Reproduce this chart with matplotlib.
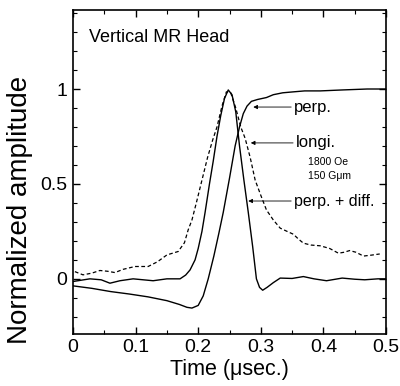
import numpy as np
import matplotlib.pyplot as plt
from matplotlib.ticker import MultipleLocator

plt.rcParams['font.family'] = ['Liberation Sans', 'DejaVu Sans']

# perp. (step response)
t_perp = [0, 0.03, 0.06, 0.09, 0.12, 0.15, 0.17, 0.182, 0.19, 0.2, 0.208, 0.216,
          0.225, 0.233, 0.24, 0.25, 0.259, 0.266, 0.272, 0.278, 0.285, 0.295,
          0.309, 0.32, 0.335, 0.352, 0.37, 0.395, 0.43, 0.47, 0.5]
y_perp = [-0.037, -0.05, -0.067, -0.08, -0.095, -0.115, -0.135, -0.15, -0.154,
          -0.14, -0.09, 0.0, 0.12, 0.24, 0.35, 0.53, 0.70, 0.80, 0.87, 0.91,
          0.935, 0.945, 0.955, 0.97, 0.98, 0.985, 0.99, 0.99, 0.995, 1.0, 1.0]

# longi. (pulse)
t_longi = [0, 0.027, 0.045, 0.059, 0.075, 0.096, 0.128, 0.15, 0.171, 0.18, 0.187,
           0.195, 0.2, 0.206, 0.211, 0.218, 0.224, 0.23, 0.236, 0.242, 0.248,
           0.254, 0.26, 0.266, 0.273, 0.28, 0.287, 0.293, 0.298, 0.303, 0.31,
           0.32, 0.331, 0.35, 0.368, 0.385, 0.405, 0.43, 0.45, 0.466, 0.487, 0.5]
y_longi = [-0.014, 0.0, -0.005, -0.023, -0.01, 0.0, -0.01, 0.0, 0.0, 0.02, 0.047,
           0.1, 0.16, 0.25, 0.35, 0.5, 0.62, 0.75, 0.86, 0.95, 0.995, 0.97, 0.88,
           0.70, 0.52, 0.35, 0.17, 0.0, -0.045, -0.06, -0.045, -0.02, 0.004,
           0.002, 0.012, 0.0, -0.01, 0.004, -0.002, -0.005, 0.0, 0.0]

# perp. + diff. (dashed)
t_diff = [0.003, 0.016, 0.03, 0.043, 0.055, 0.067, 0.08, 0.099, 0.12, 0.135, 0.15,
          0.168, 0.178, 0.184, 0.19, 0.197, 0.206, 0.215, 0.223, 0.23, 0.238,
          0.245, 0.252, 0.26, 0.268, 0.275, 0.283, 0.291, 0.3, 0.309, 0.32,
          0.331, 0.342, 0.352, 0.36, 0.368, 0.38, 0.395, 0.41, 0.424, 0.433,
          0.442, 0.452, 0.464, 0.477, 0.49]
y_diff = [0.038, 0.021, 0.03, 0.044, 0.04, 0.033, 0.05, 0.065, 0.065, 0.09, 0.126,
          0.144, 0.19, 0.258, 0.31, 0.40, 0.52, 0.64, 0.73, 0.80, 0.91, 0.985,
          0.98, 0.90, 0.80, 0.74, 0.64, 0.52, 0.44, 0.363, 0.31, 0.267, 0.25,
          0.235, 0.21, 0.188, 0.178, 0.174, 0.16, 0.135, 0.14, 0.149, 0.14,
          0.12, 0.125, 0.131]

fig = plt.figure(figsize=(4.0, 3.86), dpi=100)
ax = fig.add_axes([0.1825, 0.135, 0.7825, 0.839])

ax.plot(t_perp, y_perp, color='black', lw=1.0)
ax.plot(t_longi, y_longi, color='black', lw=1.0)
ax.plot(t_diff, y_diff, color='black', lw=0.9, linestyle=(0, (3, 2)))

ax.set_xlim(0, 0.5)
ax.set_ylim(-0.29, 1.416)

ax.xaxis.set_minor_locator(MultipleLocator(0.05))
ax.yaxis.set_minor_locator(MultipleLocator(0.1))
ax.set_xticks([0, 0.1, 0.2, 0.3, 0.4, 0.5])
ax.set_xticklabels(['0', '0.1', '0.2', '0.3', '0.4', '0.5'])
ax.set_yticks([0, 0.5, 1])
ax.set_yticklabels(['0', '0.5', '1'])
ax.tick_params(which='both', direction='in', top=True, right=True)
ax.tick_params(which='major', length=5, width=1, labelsize=14, pad=4)
ax.tick_params(which='minor', length=3, width=0.8)
for s in ax.spines.values():
    s.set_linewidth(1.2)

ax.set_xlabel('Time (\u03bcsec.)', fontsize=15.5, labelpad=2)
ax.set_ylabel('Normalized amplitude', fontsize=20)
ax.yaxis.set_label_coords(-0.128, 0.383)

ax.text(0.025, 1.27, 'Vertical MR Head', fontsize=13, va='center', ha='left')

arrow = dict(arrowstyle='-|>', color='black', lw=0.6, mutation_scale=6,
             shrinkA=0, shrinkB=0)
ax.annotate('perp.', xy=(0.288, 0.905), xytext=(0.353, 0.905), fontsize=12,
            va='center', ha='left', arrowprops=arrow)
ax.annotate('longi.', xy=(0.284, 0.716), xytext=(0.356, 0.716), fontsize=12,
            va='center', ha='left', arrowprops=arrow)
ax.text(0.376, 0.616, '1800 Oe', fontsize=7.5, va='center', ha='left')
ax.text(0.376, 0.542, '150 G\u03bcm', fontsize=7.5, va='center', ha='left')
ax.annotate('perp. + diff.', xy=(0.28, 0.41), xytext=(0.353, 0.41), fontsize=11.5,
            va='center', ha='left', arrowprops=arrow)

fig.savefig('out.png', dpi=100)
